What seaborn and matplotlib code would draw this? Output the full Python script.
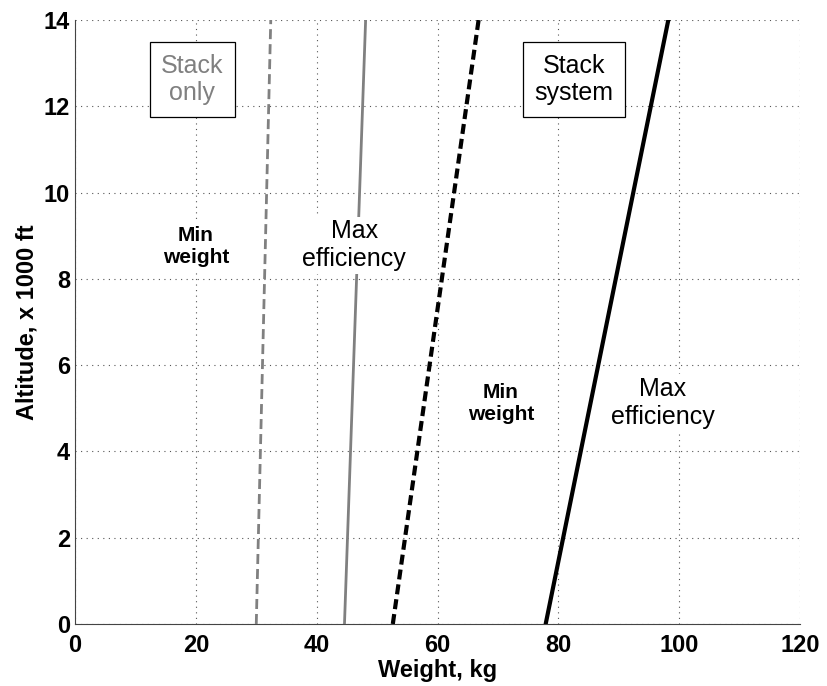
import matplotlib
matplotlib.use("Agg")
import seaborn as sns
import matplotlib.pyplot as plt
from matplotlib.ticker import AutoMinorLocator

# altitude in 1000 ft (end points of each line)
altitude = [0, 14]

# weight, kg
stack_min_weight = [30.0, 32.4]
stack_max_eff = [44.6, 48.1]
system_min_weight = [52.6, 66.8]
system_max_eff = [77.9, 98.2]

x_ticks = [0, 20, 40, 60, 80, 100, 120]
y_ticks = [0, 2, 4, 6, 8, 10, 12, 14]

sns.set_style("white")
plt.rcParams['font.family'] = ['Liberation Sans', 'DejaVu Sans']
plt.rcParams['text.color'] = 'black'
plt.rcParams['axes.labelcolor'] = 'black'
plt.rcParams['xtick.color'] = 'black'
plt.rcParams['ytick.color'] = 'black'

fig = plt.figure(figsize=(8.27, 6.86), dpi=100)
ax = fig.add_axes([0.0907, 0.0904, 0.8767, 0.8805])

gray = "#808080"
sns.lineplot(x=stack_min_weight, y=altitude, ax=ax, color=gray, lw=2,
             linestyle=(0, (3.6, 1.8)), zorder=3)
sns.lineplot(x=stack_max_eff, y=altitude, ax=ax, color=gray, lw=2, zorder=3)
sns.lineplot(x=system_min_weight, y=altitude, ax=ax, color="black", lw=3,
             linestyle=(0, (2.4, 1.2)), zorder=3)
sns.lineplot(x=system_max_eff, y=altitude, ax=ax, color="black", lw=3, zorder=3)

ax.set_xlim(0, 120)
ax.set_ylim(0, 14)
ax.set_xticks(x_ticks)
ax.set_yticks(y_ticks)
ax.xaxis.set_minor_locator(AutoMinorLocator(5))
ax.yaxis.set_minor_locator(AutoMinorLocator(5))
ax.tick_params(which="both", direction="in", top=False, right=False,
               labelsize=17)
ax.tick_params(which="major", length=5, width=1)
ax.tick_params(which="minor", length=2.5, width=0.8)
ax.tick_params(axis="x", which="major", pad=7)
for lab in ax.get_xticklabels() + ax.get_yticklabels():
    lab.set_fontweight("bold")

ax.grid(True, which="major", linestyle=(0, (1, 4)), color="#555555", lw=0.8)
ax.spines["top"].set_visible(False)
ax.spines["right"].set_visible(False)
ax.spines["left"].set_color("#444444")
ax.spines["bottom"].set_color("#444444")

ax.set_xlabel("Weight, kg", fontsize=17, fontweight="bold", labelpad=2)
ax.set_ylabel("Altitude, x 1000 ft", fontsize=17, fontweight="bold", labelpad=4)

box = dict(boxstyle="square,pad=0.45", fc="white", ec="black", lw=0.9)
plain = dict(boxstyle="square,pad=0.1", fc="white", ec="none")

ax.text(19.4, 12.62, "Stack\nonly", color=gray, fontsize=18, ha="center",
        va="center", bbox=box, zorder=4)
ax.text(82.6, 12.62, "Stack\nsystem", color="black", fontsize=18, ha="center",
        va="center", bbox=box, zorder=4)

ax.text(20.0, 8.76, "Min\nweight", fontsize=15, fontweight="bold",
        ha="center", va="center", bbox=plain, zorder=4)
ax.text(46.2, 8.78, "Max\nefficiency", fontsize=18, ha="center",
        va="center", bbox=plain, zorder=4)
ax.text(70.5, 5.1, "Min\nweight", fontsize=15, fontweight="bold",
        ha="center", va="center", bbox=plain, zorder=4)
ax.text(97.3, 5.13, "Max\nefficiency", fontsize=18, ha="center",
        va="center", bbox=plain, zorder=4)

plt.savefig("out.png", dpi=100)
